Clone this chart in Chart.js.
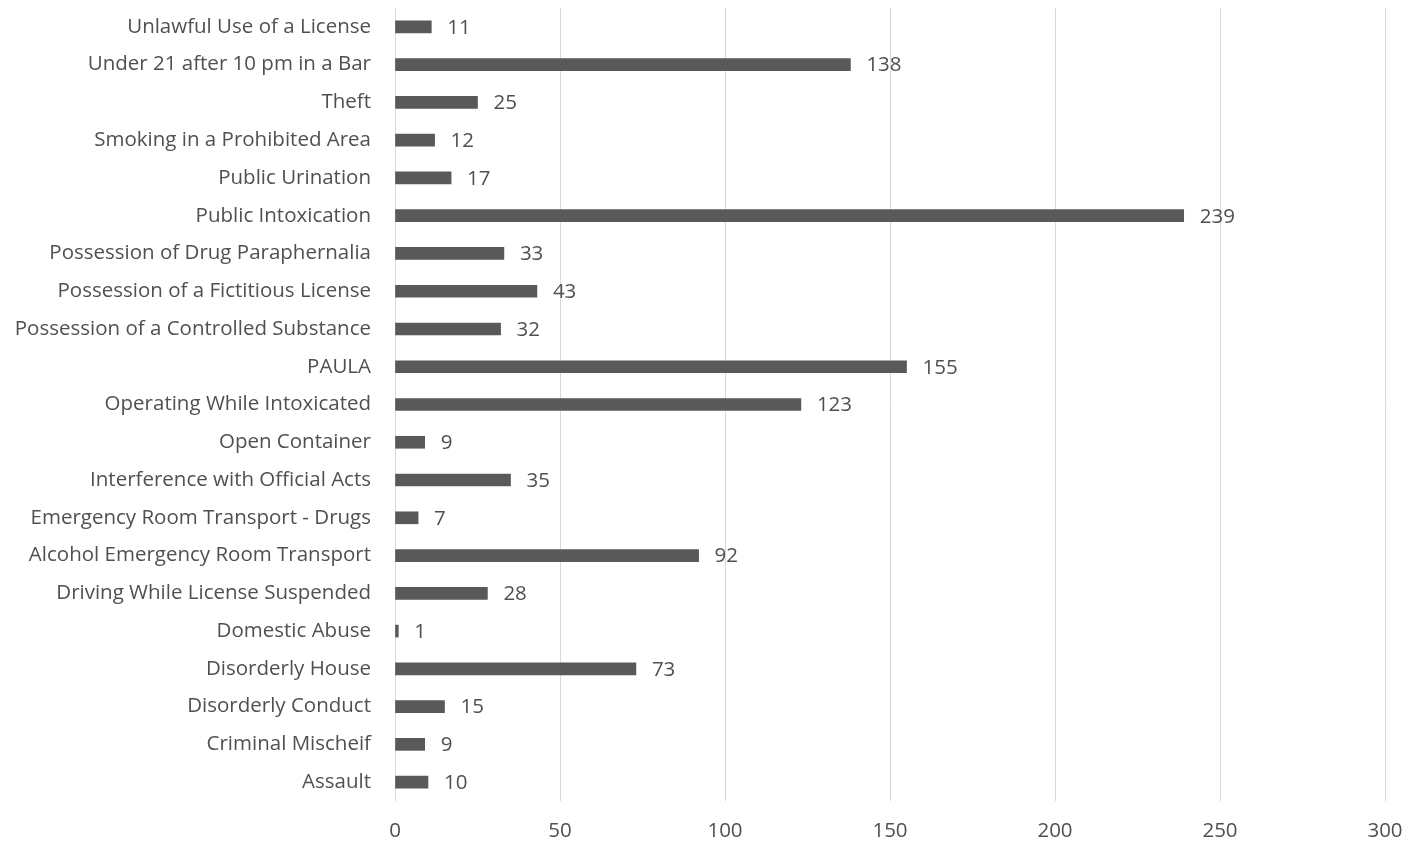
<!DOCTYPE html>
<html>
<head>
<meta charset="utf-8">
<script src="https://cdn.jsdelivr.net/npm/chart.js@4/dist/chart.umd.min.js"></script>
<style>
  html, body { margin: 0; padding: 0; background: #fff; }
  #wrap { width: 1426px; height: 846px; }
</style>
</head>
<body>
<div id="wrap"><canvas id="graph1" width="1426" height="846"></canvas></div>
<script>
// categories, top to bottom
var categories = ['Unlawful Use of a License', 'Under 21 after 10 pm in a Bar', 'Theft',
  'Smoking in a Prohibited Area', 'Public Urination', 'Public Intoxication',
  'Possession of Drug Paraphernalia', 'Possession of a Fictitious License',
  'Possession of a Controlled Substance', 'PAULA', 'Operating While Intoxicated',
  'Open Container', 'Interference with Official Acts', 'Emergency Room Transport - Drugs',
  'Alcohol Emergency Room Transport', 'Driving While License Suspended', 'Domestic Abuse',
  'Disorderly House', 'Disorderly Conduct', 'Criminal Mischeif', 'Assault'];
var counts = [11, 138, 25, 12, 17, 239, 33, 43, 32, 155, 123, 9, 35, 7, 92, 28, 1, 73, 15, 9, 10];
var xTicks = [0, 50, 100, 150, 200, 250, 300];

var fontFam = "'Open Sans', sans-serif";
var fontSize = 20.5;
var txtCol = '#505050';

// value labels at the end of each bar
var barLabels = {
  id: 'barLabels',
  afterDatasetsDraw: function(chart) {
    var ctx = chart.ctx;
    var meta = chart.getDatasetMeta(0);
    ctx.save();
    ctx.font = fontSize + 'px ' + fontFam;
    ctx.fillStyle = txtCol;
    ctx.textAlign = 'left';
    ctx.textBaseline = 'middle';
    meta.data.forEach(function(bar, i) {
      ctx.fillText(String(counts[i]), bar.x + 16, bar.y + 1);
    });
    ctx.restore();
  }
};

new Chart(document.getElementById('graph1'), {
  type: 'bar',
  data: {
    labels: categories,
    datasets: [{
      data: counts,
      backgroundColor: '#595959',
      barThickness: 12
    }]
  },
  options: {
    indexAxis: 'y',
    responsive: false,
    animation: false,
    layout: { padding: { top: 8, right: 41, left: 0, bottom: 0 } },
    plugins: {
      legend: { display: false },
      tooltip: { enabled: false }
    },
    scales: {
      x: {
        min: 0,
        max: 300,
        afterBuildTicks: function(axis) {
          axis.ticks = xTicks.map(function(v) { return { value: v }; });
        },
        afterFit: function(axis) { axis.height = 45; axis.paddingRight = 0; axis.paddingLeft = 0; },
        grid: { color: '#d9d9d9', lineWidth: 1, drawTicks: false },
        border: { display: false },
        ticks: { padding: 18, color: txtCol, font: { size: fontSize, family: fontFam } }
      },
      y: {
        afterFit: function(axis) { axis.width = 395; axis.paddingTop = 0; axis.paddingBottom = 0; },
        grid: { display: false, drawTicks: false },
        border: { display: false },
        ticks: { padding: 24, color: txtCol, font: { size: fontSize, family: fontFam }, autoSkip: false }
      }
    }
  },
  plugins: [barLabels]
});
</script>
</body>
</html>
